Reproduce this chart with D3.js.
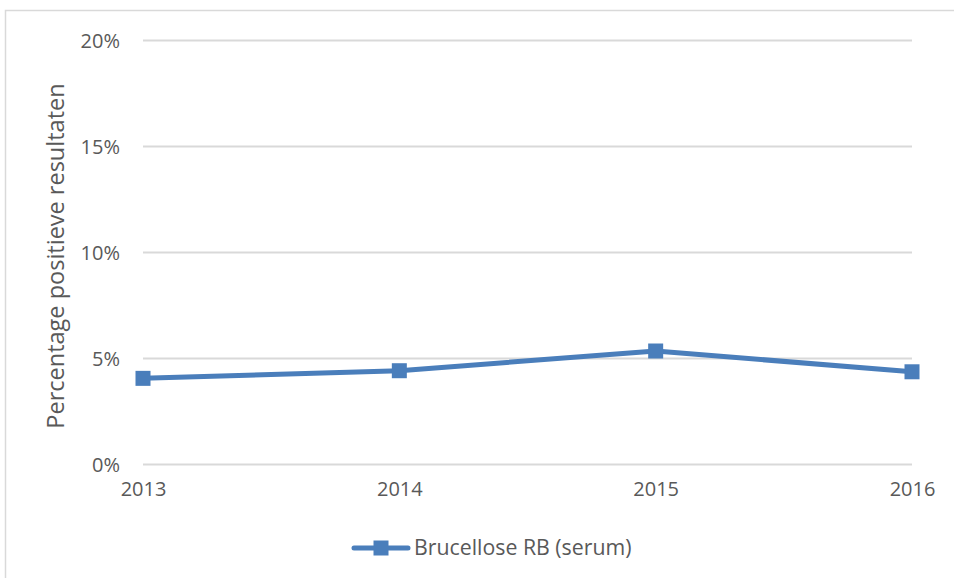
<!DOCTYPE html>
<html>
<head>
<meta charset="utf-8">
<script src="https://cdn.jsdelivr.net/npm/d3@7"></script>
<style>
  html, body { margin: 0; padding: 0; background: #fff; }
  svg { display: block; }
  text { font-family: "Open Sans", Lato, sans-serif; fill: #595959; }
</style>
</head>
<body>
<svg id="chart" width="954" height="578"></svg>
<script>
// Share of positive results per year
const years = ["2013", "2014", "2015", "2016"];
const positivePct = [4.04, 4.40, 5.33, 4.35];
const yTicks = [0, 5, 10, 15, 20];
const seriesName = "Brucellose RB (serum)";
const yTitle = "Percentage positieve resultaten";

const plot = { left: 143, right: 912, top: 40, bottom: 464 };
const blue = "#4a7ebb";

const svg = d3.select("#chart");

// outer chart frame
svg.append("rect")
  .attr("x", 5.5).attr("y", 10.5)
  .attr("width", 960).attr("height", 600)
  .attr("fill", "none").attr("stroke", "#d9d9d9").attr("stroke-width", 1.5);

const x = d3.scalePoint().domain(years).range([plot.left, plot.right]);
const y = d3.scaleLinear().domain([0, 20]).range([plot.bottom, plot.top]);

// horizontal gridlines + y labels
const yAxis = d3.axisLeft(y).tickValues(yTicks)
  .tickSize(-(plot.right - plot.left)).tickPadding(23)
  .tickFormat(d => d + "%");
const gy = svg.append("g").attr("transform", `translate(${plot.left},0)`).call(yAxis);
gy.select(".domain").remove();
gy.selectAll(".tick line").attr("stroke", "#d9d9d9").attr("stroke-width", 2);
gy.selectAll(".tick text").style("font-size", "20px").attr("fill", "#595959").attr("dy", "0.35em");

// x labels
const xAxis = d3.axisBottom(x).tickSize(0).tickPadding(18);
const gx = svg.append("g").attr("transform", `translate(0,${plot.bottom})`).call(xAxis);
gx.select(".domain").remove();
gx.selectAll(".tick text").style("font-size", "20px").attr("fill", "#595959");

// y axis title
svg.append("text")
  .attr("transform", `translate(64,256) rotate(-90)`)
  .attr("text-anchor", "middle")
  .style("font-size", "23.5px")
  .text(yTitle);

// series line
const data = years.map((yr, i) => ({ yr, v: positivePct[i] }));
svg.append("path")
  .datum(data)
  .attr("fill", "none").attr("stroke", blue)
  .attr("stroke-width", 5).attr("stroke-linejoin", "round").attr("stroke-linecap", "round")
  .attr("d", d3.line().x(d => x(d.yr)).y(d => y(d.v)));

// square markers
const ms = 15;
svg.selectAll("rect.marker").data(data).enter().append("rect")
  .attr("class", "marker")
  .attr("x", d => x(d.yr) - ms / 2).attr("y", d => y(d.v) - ms / 2)
  .attr("width", ms).attr("height", ms)
  .attr("fill", blue);

// legend
const ly = 548;
const lg = svg.append("g");
lg.append("line").attr("x1", 354).attr("x2", 408).attr("y1", ly).attr("y2", ly)
  .attr("stroke", blue).attr("stroke-width", 5).attr("stroke-linecap", "round");
lg.append("rect").attr("x", 381 - ms / 2).attr("y", ly - ms / 2).attr("width", ms).attr("height", ms).attr("fill", blue);
lg.append("text").attr("x", 414).attr("y", ly).attr("dy", "0.35em")
  .style("font-size", "21.3px").text(seriesName);
</script>
</body>
</html>
